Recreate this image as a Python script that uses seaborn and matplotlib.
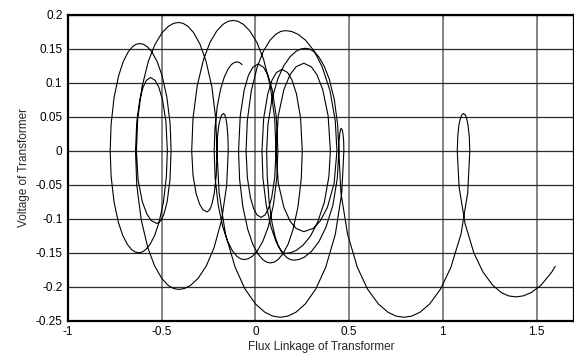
import matplotlib
matplotlib.use("Agg")
import matplotlib.pyplot as plt
import seaborn as sns
import pandas as pd

# Flux linkage / voltage trajectory of the transformer, one half swing per row
flux = [
    1.600, 1.581, 1.524, 1.472, 1.429, 1.388, 1.351, 1.312, 1.266, 1.2145, 1.166, 1.119, 1.087, 1.077,
    1.080, 1.086, 1.094, 1.101, 1.110, 1.120, 1.127, 1.134, 1.141, 1.144,
    1.133, 1.097, 1.043, 0.988, 0.930, 0.8775, 0.8335, 0.792, 0.751, 0.708, 0.656, 0.598, 0.544, 0.4915, 0.456, 0.445,
    0.446, 0.449, 0.452, 0.454, 0.458, 0.462, 0.465, 0.468, 0.471, 0.472,
    0.461, 0.4266, 0.375, 0.322, 0.266, 0.2154, 0.173, 0.133, 0.093, 0.051, 0.0005, -0.0556, -0.108, -0.160, -0.194, -0.205,
    -0.202, -0.195, -0.187, -0.180, -0.170, -0.163, -0.158, -0.152, -0.147, -0.145,
    -0.1535, -0.1805, -0.221, -0.262, -0.306, -0.3456, -0.379, -0.410, -0.437, -0.466, -0.500, -0.538, -0.574, -0.609, -0.633, -0.640,
    -0.633, -0.617, -0.599, -0.582, -0.560, -0.535, -0.516, -0.496, -0.4775, -0.470,
    -0.475, -0.4905, -0.514, -0.5376, -0.563, -0.586, -0.605, -0.623, -0.641, -0.660, -0.6826, -0.708, -0.7315, -0.7546, -0.770, -0.775,
    -0.770, -0.754, -0.730, -0.7056, -0.6795, -0.656, -0.6365, -0.618, -0.598, -0.577, -0.552, -0.524, -0.498, -0.4725, -0.455, -0.450,
    -0.456, -0.471, -0.488, -0.504, -0.525, -0.556, -0.579, -0.6035, -0.626, -0.635,
    -0.628, -0.605, -0.571, -0.5356, -0.498, -0.4647, -0.4366, -0.410, -0.386, -0.360, -0.3296, -0.2956, -0.264, -0.2325, -0.2116, -0.205,
    -0.209, -0.220, -0.232, -0.243, -0.258, -0.281, -0.298, -0.3165, -0.333, -0.340,
    -0.333, -0.3105, -0.277, -0.2428, -0.206, -0.1735, -0.146, -0.120, -0.093, -0.064, -0.030, 0.0083, 0.044, 0.079, 0.1026, 0.110,
    0.103, 0.087, 0.069, 0.052, 0.030, 0.008, -0.009, -0.027, -0.043, -0.050,
    -0.0433, -0.022, 0.010, 0.0428, 0.0777, 0.109, 0.135, 0.160, 0.1925, 0.2268, 0.268, 0.3135, 0.356, 0.398, 0.426, 0.435,
    0.420, 0.384, 0.345, 0.308, 0.258, 0.217, 0.185, 0.152, 0.122, 0.110,
    0.122, 0.152, 0.185, 0.217, 0.258, 0.298, 0.328, 0.359, 0.388, 0.400,
    0.392, 0.368, 0.331, 0.294, 0.254, 0.218, 0.188, 0.160, 0.148, 0.136, 0.121, 0.104, 0.0886, 0.0734, 0.063, 0.060,
    0.0666, 0.0877, 0.119, 0.1515, 0.186, 0.2167, 0.2426, 0.267, 0.288, 0.310, 0.337, 0.366, 0.394, 0.421, 0.439, 0.445,
    0.437, 0.413, 0.376, 0.339, 0.299, 0.263, 0.233, 0.205, 0.185, 0.164, 0.138, 0.110, 0.084, 0.058, 0.040, 0.035,
    0.044, 0.066, 0.089, 0.112, 0.142, 0.172, 0.195, 0.219, 0.241, 0.250,
    0.2446, 0.227, 0.201, 0.175, 0.1466, 0.121, 0.100, 0.080, 0.060, 0.039, 0.0134, -0.015, -0.041, -0.067, -0.0846, -0.090,
    -0.081, -0.060, -0.037, -0.014, 0.015, 0.044, 0.067, 0.090, 0.111, 0.120,
    0.114, 0.096, 0.0685, 0.040, 0.0106, -0.016, -0.039, -0.060, -0.079, -0.099, -0.1227, -0.149, -0.174, -0.1986, -0.215, -0.220,
    -0.216, -0.2037, -0.185, -0.166, -0.146, -0.128, -0.112, -0.098, -0.085, -0.071,
]

voltage = [
    -0.170, -0.1785, -0.1978, -0.2086, -0.2135, -0.215, -0.2135, -0.2086, -0.1978, -0.1785, -0.1505, -0.1075, -0.0538, 0.0,
    0.022, 0.0385, 0.0479, 0.0528, 0.055, 0.0528, 0.0479, 0.0385, 0.022, 0.0,
    -0.0613, -0.1225, -0.1715, -0.2034, -0.2254, -0.2377, -0.2433, -0.245, -0.2433, -0.2377, -0.2254, -0.2034, -0.1715, -0.1225, -0.0613, 0.0,
    0.0132, 0.0231, 0.0287, 0.0317, 0.033, 0.0317, 0.0287, 0.0231, 0.0132, 0.0,
    -0.0613, -0.1225, -0.1715, -0.2034, -0.2254, -0.2377, -0.2433, -0.245, -0.2433, -0.2377, -0.2254, -0.2034, -0.1715, -0.1225, -0.0613, 0.0,
    0.022, 0.0385, 0.0479, 0.0528, 0.055, 0.0528, 0.0479, 0.0385, 0.022, 0.0,
    -0.051, -0.102, -0.1428, -0.1693, -0.1877, -0.1979, -0.2026, -0.204, -0.2026, -0.1979, -0.1877, -0.1693, -0.1428, -0.102, -0.051, 0.0,
    0.0432, 0.0756, 0.094, 0.1037, 0.108, 0.1037, 0.094, 0.0756, 0.0432, 0.0,
    -0.0375, -0.075, -0.105, -0.1245, -0.138, -0.1455, -0.149, -0.150, -0.149, -0.1455, -0.138, -0.1245, -0.105, -0.075, -0.0375, 0.0,
    0.0395, 0.079, 0.1106, 0.1311, 0.1454, 0.1533, 0.1569, 0.158, 0.1569, 0.1533, 0.1454, 0.1311, 0.1106, 0.079, 0.0395, 0.0,
    -0.0428, -0.0749, -0.0931, -0.1027, -0.107, -0.1027, -0.0931, -0.0749, -0.0428, 0.0,
    0.0473, 0.0945, 0.1323, 0.1569, 0.1739, 0.1833, 0.1877, 0.189, 0.1877, 0.1833, 0.1739, 0.1569, 0.1323, 0.0945, 0.0473, 0.0,
    -0.036, -0.063, -0.0783, -0.0864, -0.090, -0.0864, -0.0783, -0.063, -0.036, 0.0,
    0.048, 0.096, 0.1344, 0.1594, 0.1766, 0.1862, 0.1907, 0.192, 0.1907, 0.1862, 0.1766, 0.1594, 0.1344, 0.096, 0.048, 0.0,
    -0.0392, -0.0686, -0.0853, -0.0941, -0.098, -0.0941, -0.0853, -0.0686, -0.0392, 0.0,
    0.0443, 0.0885, 0.1239, 0.1469, 0.1628, 0.1717, 0.1758, 0.177, 0.1758, 0.1717, 0.1628, 0.1469, 0.1239, 0.0885, 0.0443, 0.0,
    -0.0476, -0.0833, -0.1035, -0.1142, -0.119, -0.1142, -0.1035, -0.0833, -0.0476, 0.0,
    0.0516, 0.0903, 0.1122, 0.1238, 0.129, 0.1238, 0.1122, 0.0903, 0.0516, 0.0,
    -0.0378, -0.0755, -0.1057, -0.1253, -0.1389, -0.1465, -0.150, -0.151, -0.150, -0.1465, -0.1389, -0.1253, -0.1057, -0.0755, -0.0378, 0.0,
    0.0378, 0.0755, 0.1057, 0.1253, 0.1389, 0.1465, 0.150, 0.151, 0.150, 0.1465, 0.1389, 0.1253, 0.1057, 0.0755, 0.0378, 0.0,
    -0.0403, -0.0805, -0.1127, -0.1336, -0.1481, -0.1562, -0.1599, -0.161, -0.1599, -0.1562, -0.1481, -0.1336, -0.1127, -0.0805, -0.0403, 0.0,
    0.048, 0.084, 0.1044, 0.1152, 0.120, 0.1152, 0.1044, 0.084, 0.048, 0.0,
    -0.0413, -0.0825, -0.1155, -0.137, -0.1518, -0.160, -0.1638, -0.165, -0.1638, -0.160, -0.1518, -0.137, -0.1155, -0.0825, -0.0413, 0.0,
    0.0512, 0.0896, 0.1114, 0.1229, 0.128, 0.1229, 0.1114, 0.0896, 0.0512, 0.0,
    -0.040, -0.080, -0.112, -0.1328, -0.1472, -0.1552, -0.1589, -0.160, -0.1589, -0.1552, -0.1472, -0.1328, -0.112, -0.080, -0.040, 0.0,
    0.0328, 0.0655, 0.0917, 0.1087, 0.1205, 0.1271, 0.1301, 0.131, 0.130, 0.127,
]

x_ticks = [-1, -0.5, 0, 0.5, 1, 1.5]
x_tick_labels = ["-1", "-0.5", "0", "0.5", "1", "1.5"]
y_ticks = [-0.25, -0.2, -0.15, -0.1, -0.05, 0, 0.05, 0.1, 0.15, 0.2]
y_tick_labels = ["-0.25", "-0.2", "-0.15", "-0.1", "-0.05", "0",
                 "0.05", "0.1", "0.15", "0.2"]

df = pd.DataFrame({"flux": flux, "voltage": voltage})

sns.set_theme(style="white")
plt.rcParams["font.family"] = ["Liberation Sans", "DejaVu Sans"]
plt.rcParams["axes.unicode_minus"] = False

fig = plt.figure(figsize=(5.74, 3.56), dpi=100)
ax = fig.add_axes([0.1185, 0.0992, 0.8815, 0.8587])

# grid first so the trajectory sits on top
for xv in x_ticks:
    ax.axvline(xv, color="#7a7a7a", lw=1.3, zorder=1)
for yv in y_ticks:
    ax.axhline(yv, color="#2a2a2a", lw=0.9, zorder=1)

sns.lineplot(data=df, x="flux", y="voltage", sort=False, estimator=None,
             color="black", lw=0.8, ax=ax, zorder=3)

ax.set_xlim(-1, 1.7)
ax.set_ylim(-0.25, 0.2)
ax.set_xticks(x_ticks)
ax.set_xticklabels(x_tick_labels)
ax.set_yticks(y_ticks)
ax.set_yticklabels(y_tick_labels)
ax.tick_params(direction="in", length=3, width=0.8, colors="black",
               labelsize=8.5, top=True, right=True, pad=4)
ax.set_xlabel("Flux Linkage of Transformer", fontsize=8.5, labelpad=2)
ax.set_ylabel("Voltage of Transformer", fontsize=8.5, labelpad=4)

for side, sp in ax.spines.items():
    sp.set_color("black")
    sp.set_linewidth(1.6)
    sp.set_zorder(4)

fig.savefig("out.png", dpi=100, facecolor="white")
